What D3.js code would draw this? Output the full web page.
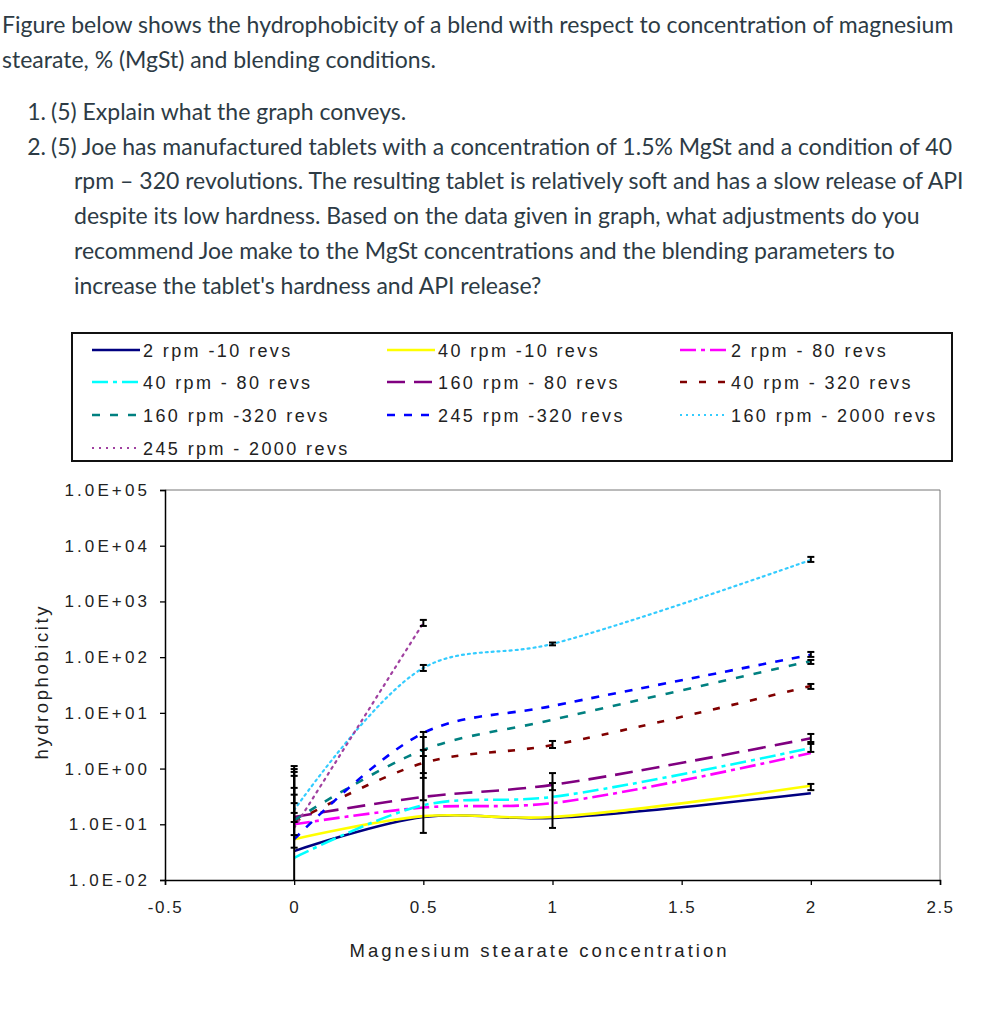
<!DOCTYPE html>
<html>
<head>
<meta charset="utf-8">
<script src="https://cdn.jsdelivr.net/npm/d3@7"></script>
<style>
  html, body { margin: 0; padding: 0; background: #fff; }
  svg { display: block; }
</style>
</head>
<body>
<svg id="chart" width="989" height="1024"></svg>
<script>
// ---------------- DATA ----------------
const concentration = [0, 0.5, 1, 2];               // MgSt %
const concentrationShort = [0, 0.5];               // 245 rpm - 2000 revs only
const seriesNames = [
  "2 rpm -10 revs", "40 rpm -10 revs", "2 rpm - 80 revs",
  "40 rpm - 80 revs", "160 rpm - 80 revs", "40 rpm - 320 revs",
  "160 rpm -320 revs", "245 rpm -320 revs", "160 rpm - 2000 revs",
  "245 rpm - 2000 revs"
];
const rpm2rev10    = [0.033, 0.135, 0.13, 0.36];
const rpm40rev10   = [0.054, 0.14, 0.135, 0.49];
const rpm2rev80    = [0.10, 0.20, 0.24, 1.9];
const rpm40rev80   = [0.025, 0.22, 0.31, 2.34];
const rpm160rev80  = [0.135, 0.31, 0.51, 3.5];
const rpm40rev320  = [0.11, 1.26, 2.65, 30.4];
const rpm160rev320 = [0.118, 2.16, 7.5, 85];
const rpm245rev320 = [0.054, 4.35, 13.3, 110];
const rpm160rev2000 = [0.18, 64, 173, 5560];
const rpm245rev2000 = [0.086, 411];
// error bars: x, low, high
const errX    = [0, 0, 0, 0, 0, 0, 0.5, 0.5, 0.5, 0.5, 0.5, 0.5, 1, 1, 1, 1, 2, 2, 2, 2, 2, 2, 2];
const errLow  = [0.001, 0.038, 0.064, 0.11, 0.16, 0.24, 0.070, 0.27, 0.68, 0.83, 363, 56.5, 0.086, 0.41, 2.34, 163, 5120, 101, 75.5, 26.9, 3.0, 1.99, 0.41];
const errHigh = [1.11, 0.98, 0.87, 0.74, 0.45, 0.34, 4.54, 3.69, 2.16, 1.68, 466, 72.4, 0.83, 0.55, 3.13, 183, 6300, 124, 89, 33, 4.18, 2.77, 0.53];
const yTicks = [1e-2, 1e-1, 1e0, 1e1, 1e2, 1e3, 1e4, 1e5];
const yTickLabels = ["1.0E-02", "1.0E-01", "1.0E+00", "1.0E+01", "1.0E+02", "1.0E+03", "1.0E+04", "1.0E+05"];
const xTicks = [-0.5, 0, 0.5, 1, 1.5, 2, 2.5];
const xTickLabels = ["-0.5", "0", "0.5", "1", "1.5", "2", "2.5"];
const questionLines = [
  "Figure below shows the hydrophobicity of a blend with respect to concentration of magnesium",
  "stearate, % (MgSt) and blending conditions."
];
const listItems = [
  ["1.", "(5) Explain what the graph conveys."],
  ["2.", "(5) Joe has manufactured tablets with a concentration of 1.5% MgSt and a condition of 40"],
  ["", "rpm \u2013 320 revolutions. The resulting tablet is relatively soft and has a slow release of API"],
  ["", "despite its low hardness. Based on the data given in graph, what adjustments do you"],
  ["", "recommend Joe make to the MgSt concentrations and the blending parameters to"],
  ["", "increase the tablet's hardness and API release?"]
];

// ---------------- STYLES ----------------
const styles = [
  { color: "#000080", dash: null },
  { color: "#FFFF00", dash: null },
  { color: "#FF00FF", dash: "16,5,4,5" },
  { color: "#00FFFF", dash: "16,5,4,5" },
  { color: "#800080", dash: "18,9" },
  { color: "#800000", dash: "7,12" },
  { color: "#008080", dash: "8,10" },
  { color: "#0000FF", dash: "8,9" },
  { color: "#33CCFF", dash: "2,4" },
  { color: "#A040A0", dash: "2,5" }
];
const seriesValues = [rpm2rev10, rpm40rev10, rpm2rev80, rpm40rev80, rpm160rev80,
  rpm40rev320, rpm160rev320, rpm245rev320, rpm160rev2000, rpm245rev2000];

const svg = d3.select("#chart");
const textColor = "#2d3b45";
const qFont = "Lato, 'Open Sans', sans-serif";
const cFont = "'Liberation Sans', Arial, sans-serif";

// Question text
const q = svg.append("g").attr("font-family", qFont).attr("font-size", 23).attr("fill", textColor);
questionLines.forEach((t, i) => {
  q.append("text").attr("x", 2).attr("y", 33 + i * 35).text(t);
});
listItems.forEach((it, i) => {
  const yy = 120 + i * 34.7;
  if (it[0]) q.append("text").attr("x", 46).attr("y", yy).attr("text-anchor", "end").text(it[0]);
  q.append("text").attr("x", it[0] ? 51 : 74).attr("y", yy).text(it[1]);
});

// ---------------- CHART ----------------
const plot = { left: 165, right: 940, top: 490, bottom: 880 };
const x = d3.scaleLinear().domain([-0.5, 2.5]).range([plot.left, plot.right]);
const y = d3.scaleLog().domain([1e-2, 1e5]).range([plot.bottom, plot.top]);

// frame (top/right)
svg.append("path")
  .attr("d", `M${plot.left},${plot.top}H${plot.right}V${plot.bottom}`)
  .attr("fill", "none").attr("stroke", "#777").attr("stroke-width", 1);

svg.append("defs").append("clipPath").attr("id", "clip")
  .append("rect").attr("x", plot.left).attr("y", plot.top)
  .attr("width", plot.right - plot.left).attr("height", plot.bottom - plot.top);

const g = svg.append("g").attr("clip-path", "url(#clip)");

const line = d3.line()
  .x((d) => x(d[0]))
  .y((d) => y(d[1]))
  .curve(d3.curveCatmullRom.alpha(0.5));

seriesValues.forEach((vals, i) => {
  const xs = vals.length === 2 ? concentrationShort : concentration;
  const pts = vals.map((v, j) => [xs[j], v]);
  g.append("path")
    .attr("d", line(pts))
    .attr("fill", "none")
    .attr("stroke", styles[i].color)
    .attr("stroke-width", i >= 8 ? 2.2 : 2.6)
    .attr("stroke-linecap", i >= 8 ? "round" : "butt")
    .attr("stroke-dasharray", styles[i].dash);
});

// error bars
errX.forEach((ex, i) => {
  const cx = x(ex), y1 = y(errLow[i]), y2 = y(errHigh[i]);
  const eg = g.append("g").attr("stroke", "#000").attr("stroke-width", 2);
  eg.append("line").attr("x1", cx).attr("x2", cx).attr("y1", y1).attr("y2", y2);
  eg.append("line").attr("x1", cx - 3.5).attr("x2", cx + 3.5).attr("y1", y1).attr("y2", y1);
  eg.append("line").attr("x1", cx - 3.5).attr("x2", cx + 3.5).attr("y1", y2).attr("y2", y2);
});

// Axes
const yAxis = d3.axisLeft(y).tickValues(yTicks)
  .tickFormat((d, i) => yTickLabels[i]).tickSize(5).tickPadding(10);
const ya = svg.append("g").attr("transform", `translate(${plot.left},0)`).call(yAxis);
ya.select(".domain").attr("stroke", "#000").attr("stroke-width", 1.5);
ya.selectAll(".tick line").attr("stroke", "#000").attr("stroke-width", 1.3);
ya.selectAll(".tick text").attr("font-family", cFont).attr("font-size", 17)
  .attr("fill", "#222").attr("letter-spacing", "3.1px");

const xAxis = d3.axisBottom(x).tickValues(xTicks)
  .tickFormat((d, i) => xTickLabels[i]).tickSize(5).tickPadding(16);
const xa = svg.append("g").attr("transform", `translate(0,${plot.bottom})`).call(xAxis);
xa.select(".domain").attr("stroke", "#000").attr("stroke-width", 1.5);
xa.selectAll(".tick line").attr("stroke", "#000").attr("stroke-width", 1.3);
xa.selectAll(".tick text").attr("font-family", cFont).attr("font-size", 17)
  .attr("fill", "#222").attr("letter-spacing", "1.5px");

// axis titles
svg.append("text").attr("x", 538).attr("y", 957)
  .attr("font-family", cFont).attr("font-size", 18.5).attr("fill", "#222")
  .attr("text-anchor", "middle")
  .attr("textLength", 377).attr("lengthAdjust", "spacing")
  .text("Magnesium stearate concentration");
svg.append("text").attr("transform", "translate(48,683) rotate(-90)")
  .attr("font-family", cFont).attr("font-size", 18.5).attr("fill", "#222")
  .attr("text-anchor", "middle")
  .attr("textLength", 153).attr("lengthAdjust", "spacing")
  .text("hydrophobicity");

// ---------------- LEGEND ----------------
svg.append("rect").attr("x", 72).attr("y", 333).attr("width", 880).attr("height", 128)
  .attr("fill", "#fff").attr("stroke", "#111").attr("stroke-width", 2);
const colX = [92, 387, 680];
const rowY = [350, 382, 415, 448];
seriesNames.forEach((name, k) => {
  const c = k % 3, r = Math.floor(k / 3);
  const lx = colX[c], ly = rowY[r];
  svg.append("line").attr("x1", lx).attr("x2", lx + 48).attr("y1", ly).attr("y2", ly)
    .attr("stroke", styles[k].color).attr("stroke-width", k >= 8 ? 2 : 2.4)
    .attr("stroke-dasharray", styles[k].dash);
  svg.append("text").attr("x", lx + 51).attr("y", ly + 6.5)
    .attr("font-family", cFont).attr("font-size", 18).attr("fill", "#222")
    .attr("letter-spacing", "2.4px")
    .text(name);
});
</script>
</body>
</html>
